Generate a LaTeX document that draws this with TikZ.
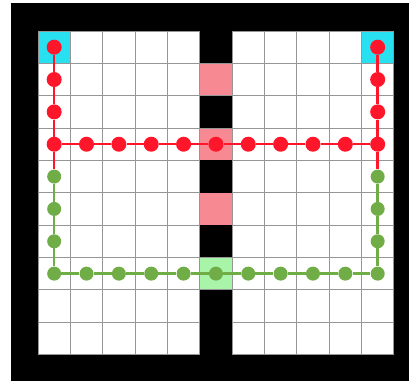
\documentclass[tikz,border=0pt]{standalone}
\definecolor{redc}{RGB}{255,22,42}
\definecolor{greenc}{RGB}{112,173,71}
\definecolor{cyanc}{RGB}{40,224,240}
\definecolor{pinkc}{RGB}{246,137,146}
\definecolor{lgreenc}{RGB}{168,244,168}
\definecolor{gridc}{RGB}{150,150,150}
\tikzset{
  gridline/.style={draw=gridc, line width=0.9pt},
  reddot/.style={circle, fill=redc, inner sep=0pt, minimum size=15pt},
  greendot/.style={circle, fill=greenc, inner sep=0pt, minimum size=14pt},
  redline/.style={draw=redc, line width=2.4pt},
  greenline/.style={draw=greenc, line width=2.6pt}
}
\begin{document}
\begin{tikzpicture}[x=1pt,y=-1pt]
\def\s{32.35}
\useasboundingbox (0,0) rectangle (409,381);
\fill[white] (0,0) rectangle (409,381);
\fill[black] (11,3) rectangle (409,381);
\fill[white] (38,31) rectangle (393.85,354.5);
% cyan start/goal cells
\fill[cyanc] (38,31) rectangle ++(\s,\s);
\fill[cyanc] (38+10*\s,31) rectangle ++(\s,\s);
% gate cells in the wall column
\foreach \j in {1,3,5} \fill[pinkc] (38+5*\s,31+\j*\s) rectangle ++(\s,\s);
\fill[lgreenc] (38+5*\s,31+7*\s) rectangle ++(\s,\s);
% grid
\foreach \i in {0,...,11} \draw[gridline] (38+\i*\s,31) -- (38+\i*\s,354.5);
\foreach \j in {0,...,10} \draw[gridline] (38,31+\j*\s) -- (393.85,31+\j*\s);
% wall
\fill[black] (38+5*\s,3) rectangle (38+6*\s,31);
\foreach \j in {0,2,4,6,8,9} \fill[black] (38+5*\s,31+\j*\s) rectangle ++(\s,\s);
% red dots
\foreach \j in {0,1,2,3} {
  \node[reddot] (d0-\j) at (38+0.5*\s,31+\j*\s+0.5*\s) {};
  \node[reddot] (d10-\j) at (38+10.5*\s,31+\j*\s+0.5*\s) {};
}
\foreach \i in {1,...,9} \node[reddot] (d\i-3) at (38+\i*\s+0.5*\s,31+3.5*\s) {};
% green dots
\foreach \j in {4,5,6,7} {
  \node[greendot] (d0-\j) at (38+0.5*\s,31+\j*\s+0.5*\s) {};
  \node[greendot] (d10-\j) at (38+10.5*\s,31+\j*\s+0.5*\s) {};
}
\foreach \i in {1,...,9} \node[greendot] (d\i-7) at (38+\i*\s+0.5*\s,31+7.5*\s) {};
% green path
\draw[greenline] (d0-4) -- (d0-5) -- (d0-6) -- (d0-7) -- (d1-7) -- (d2-7) -- (d3-7)
  -- (d4-7) -- (d5-7) -- (d6-7) -- (d7-7) -- (d8-7) -- (d9-7) -- (d10-7)
  -- (d10-6) -- (d10-5) -- (d10-4);
% red path
\draw[redline] (d0-0) -- (d0-1) -- (d0-2) -- (d0-3) -- (d1-3) -- (d2-3) -- (d3-3)
  -- (d4-3) -- (d5-3) -- (d6-3) -- (d7-3) -- (d8-3) -- (d9-3) -- (d10-3)
  -- (d10-2) -- (d10-1) -- (d10-0);
\draw[redline] (d0-3) -- (d0-4);
\draw[redline] (d10-3) -- (d10-4);
\end{tikzpicture}
\end{document}
